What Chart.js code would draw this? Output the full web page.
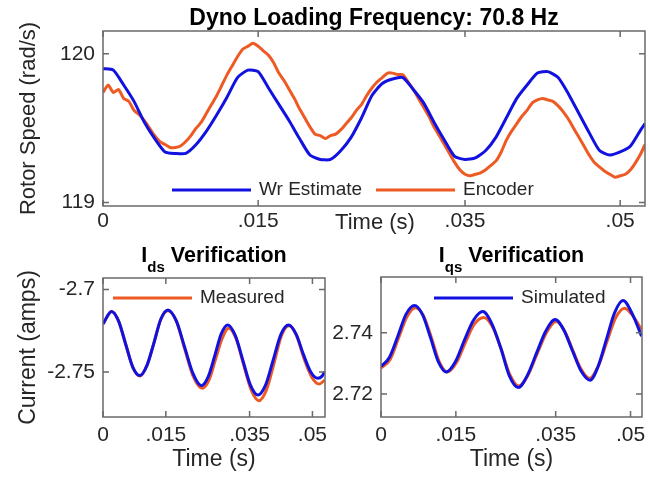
<!DOCTYPE html>
<html>
<head>
<meta charset="utf-8">
<script src="https://cdn.jsdelivr.net/npm/chart.js@4.4.0/dist/chart.umd.min.js"></script>
<style>
html, body { margin: 0; padding: 0; background: #fff; }
#wrap { position: relative; width: 650px; height: 479px; overflow: hidden; }
canvas { position: absolute; }
</style>
</head>
<body>
<div id="wrap">
  <canvas id="speed" width="650" height="240" style="left:0;top:0"></canvas>
  <canvas id="ids" width="330" height="239" style="left:0;top:240px"></canvas>
  <canvas id="iqs" width="335" height="239" style="left:315px;top:240px"></canvas>
</div>
<script>
// times are in ms, converted to seconds when the datasets are built

// Rotor speed - Wr estimate (blue)
const estTime = [0,1,2,3,4,5,6,7,8,9,10,11,12,13,14,15,16,17,18,19,20,21,22,23,24,25,26,27,28,29,30,
  31,32,33,34,35,36,37,38,39,40,41,42,43,44,45,46,47,48,49,50,51,52,52.4];
const estSpeed = [119.90,119.89,119.79,119.68,119.54,119.43,119.34,119.33,119.33,119.39,119.48,
  119.59,119.71,119.84,119.89,119.88,119.77,119.66,119.55,119.43,119.32,119.29,119.29,119.35,
  119.44,119.57,119.72,119.80,119.83,119.84,119.76,119.67,119.54,119.42,119.31,119.29,119.30,
  119.35,119.44,119.57,119.70,119.79,119.87,119.88,119.84,119.73,119.60,119.47,119.35,119.32,
  119.34,119.38,119.49,119.53];

// Rotor speed - encoder (orange)
const encTime = [0,0.5,1,1.5,2,2.5,3,3.5,4,4.5,5,5.5,6,6.5,7,7.5,8,8.5,9,9.5,10,10.5,11,11.5,
  12,12.5,13,13.5,14,14.5,15,15.5,16,16.5,17,17.5,18,18.5,19,19.5,20,20.5,21,21.5,22,22.5,23,
  23.5,24,24.5,25,25.5,26,26.5,27,27.5,28,28.5,29,29.5,30,30.5,31,31.5,32,32.5,33,33.5,34,34.5,
  35,35.5,36,36.5,37,37.5,38,38.5,39,39.5,40,40.5,41,41.5,42,42.5,43,43.5,44,44.5,45,45.5,46,
  46.5,47,47.5,48,48.5,49,49.5,50,50.5,51,51.5,52,52.4];
const encSpeed = [119.74,119.79,119.74,119.76,119.70,119.68,119.62,119.59,119.55,119.50,119.45,
  119.41,119.39,119.37,119.37,119.38,119.41,119.45,119.50,119.54,119.60,119.66,119.72,119.79,
  119.86,119.92,119.98,120.03,120.05,120.07,120.05,120.02,119.99,119.94,119.87,119.82,119.76,
  119.70,119.63,119.57,119.51,119.46,119.45,119.43,119.45,119.46,119.49,119.53,119.57,119.62,
  119.66,119.72,119.77,119.81,119.84,119.87,119.87,119.86,119.86,119.81,119.76,119.70,119.64,
  119.58,119.51,119.45,119.39,119.33,119.27,119.22,119.19,119.18,119.19,119.20,119.22,119.25,
  119.28,119.34,119.42,119.48,119.53,119.58,119.62,119.67,119.69,119.70,119.69,119.68,119.65,
  119.61,119.56,119.50,119.44,119.38,119.32,119.27,119.24,119.21,119.19,119.17,119.18,119.19,
  119.22,119.27,119.33,119.39];

// Ids verification
const idsSimTime = [0,2.05,3.7,5.4,7.1,8.8,10.5,12.2,13.8,15.5,17.5,19.5,21.5,23.5,25.1,26.7,28.2,
  29.8,31.6,33.4,35.2,37.0,38.8,40.6,42.5,44.3,46.1,47.8,49.6,51.3,52.3,52.9];
const idsSim = [-2.7209,-2.7133,-2.719,-2.733,-2.747,-2.7522,-2.746,-2.732,-2.718,-2.7124,-2.719,
  -2.735,-2.751,-2.7583,-2.753,-2.740,-2.727,-2.7215,-2.728,-2.743,-2.758,-2.764,-2.758,-2.743,
  -2.727,-2.7215,-2.727,-2.739,-2.750,-2.7538,-2.7525,-2.750];
const idsMeasTime = [0,2.05,3.7,5.4,7.1,8.8,10.5,12.2,13.8,15.5,17.5,19.5,21.6,23.7,25.3,26.9,28.4,
  30.0,31.8,33.6,35.4,37.2,39.0,40.8,42.6,44.4,46.2,48.0,49.8,51.6,52.9];
const idsMeas = [-2.7209,-2.7133,-2.719,-2.733,-2.747,-2.7525,-2.746,-2.732,-2.718,-2.7128,-2.719,
  -2.736,-2.753,-2.7599,-2.755,-2.742,-2.730,-2.7235,-2.730,-2.746,-2.761,-2.7674,-2.761,-2.745,
  -2.728,-2.722,-2.728,-2.742,-2.753,-2.7573,-2.755];

// Iqs verification
const iqsSimTime = [0,1.7,3.4,5.0,6.7,8.3,9.9,11.5,13.1,14.9,16.7,18.5,20.4,22.2,24.0,25.7,27.5,
  29.3,31.2,33.0,34.9,36.6,38.4,40.1,41.9,43.5,45.2,46.8,48.5,50.4,52.2];
const iqsSim = [2.7290,2.7320,2.7390,2.7460,2.7489,2.7460,2.7385,2.7305,2.7272,2.7305,2.7375,
  2.7440,2.7469,2.7430,2.7350,2.7260,2.7221,2.7260,2.7335,2.7405,2.7443,2.7410,2.7340,2.7275,
  2.7245,2.7290,2.7380,2.7465,2.7505,2.7460,2.7389];
const iqsMeasTime = [0,1.8,3.5,5.2,6.9,8.5,10.1,11.7,13.3,15.1,16.9,18.7,20.6,22.4,24.1,25.8,27.6,
  29.4,31.3,33.2,35.1,36.8,38.5,40.2,41.8,43.5,45.3,47.0,48.8,50.6,52.2];
const iqsMeas = [2.7285,2.7312,2.7382,2.7452,2.7482,2.7456,2.7384,2.7304,2.7272,2.7302,2.7368,
  2.7428,2.7450,2.7418,2.7346,2.7264,2.7226,2.7260,2.7332,2.7402,2.7437,2.7406,2.7340,2.7278,
  2.7251,2.7290,2.7372,2.7448,2.7480,2.7452,2.7410];

// tick values and labels
const timeTicks = [0, 0.015, 0.035, 0.05];
const timeTickLabels = ['0', '.015', '.035', '.05'];
const speedTicks = [119, 120];
const speedTickLabels = ['119', '120'];
const idsTicks = [-2.75, -2.7];
const idsTickLabels = ['-2.75', '-2.7'];
const iqsTicks = [2.72, 2.74];
const iqsTickLabels = ['2.72', '2.74'];

const BLUE = '#1212e0';
const ORANGE = '#ee5a24';
const FONT = '"Liberation Sans", Arial, Helvetica, sans-serif';

Chart.defaults.font.family = FONT;
Chart.defaults.font.size = 21;
Chart.defaults.color = '#262626';

function pts(times, vals) {
  return times.map((t, i) => ({ x: t / 1000, y: vals[i] }));
}

// MATLAB-ish box, inner ticks, inline legend and titles
const matlabLook = {
  id: 'matlabLook',
  afterDatasetsDraw(chart, args, o) {
    const ctx = chart.ctx;
    const a = chart.chartArea;
    const xs = chart.scales.x, ys = chart.scales.y;
    ctx.save();
    ctx.strokeStyle = '#6a6a6a';
    ctx.lineWidth = 1.5;
    ctx.strokeRect(a.left, a.top, a.right - a.left, a.bottom - a.top);
    ctx.beginPath();
    xs.ticks.forEach(t => {
      const px = xs.getPixelForValue(t.value);
      ctx.moveTo(px, a.bottom); ctx.lineTo(px, a.bottom - 6);
      ctx.moveTo(px, a.top); ctx.lineTo(px, a.top + 6);
    });
    ys.ticks.forEach(t => {
      const py = ys.getPixelForValue(t.value);
      ctx.moveTo(a.left, py); ctx.lineTo(a.left + 6, py);
      ctx.moveTo(a.right, py); ctx.lineTo(a.right - 6, py);
    });
    ctx.stroke();

    // legend
    ctx.font = '19px ' + FONT;
    ctx.textBaseline = 'middle';
    ctx.textAlign = 'left';
    ctx.fillStyle = '#262626';
    o.legend.forEach(it => {
      const ds = chart.data.datasets[it.ds];
      ctx.strokeStyle = ds.borderColor;
      ctx.lineWidth = 3;
      ctx.beginPath();
      ctx.moveTo(it.x, o.legendY);
      ctx.lineTo(it.x + 79, o.legendY);
      ctx.stroke();
      ctx.fillText(ds.label, it.x + 87, o.legendY);
    });

    const cx = (a.left + a.right) / 2;
    // x axis title
    ctx.textAlign = 'center';
    ctx.font = o.labelSize + 'px ' + FONT;
    ctx.fillText('Time (s)', o.xTitleX || cx, o.xTitleY);

    // y axis title
    if (o.yTitle) {
      ctx.save();
      ctx.translate(29, (a.top + a.bottom) / 2);
      ctx.rotate(-Math.PI / 2);
      ctx.fillText(o.yTitle, 0, 0);
      ctx.restore();
    }

    // chart title, optionally with subscript
    ctx.fillStyle = '#000';
    ctx.textAlign = 'left';
    ctx.textBaseline = 'alphabetic';
    const big = 'bold ' + o.titleSize + 'px ' + FONT, small = 'bold 15px ' + FONT;
    const parts = o.title;
    let w = 0;
    parts.forEach(p => { ctx.font = p.sub ? small : big; w += ctx.measureText(p.text).width; });
    let x0 = cx - w / 2;
    parts.forEach(p => {
      ctx.font = p.sub ? small : big;
      ctx.fillText(p.text, x0, o.titleY + (p.sub ? 10 : 0));
      x0 += ctx.measureText(p.text).width;
    });
    ctx.restore();
  }
};

function makeChart(id, cfg) {
  return new Chart(document.getElementById(id), {
    type: 'line',
    data: {
      datasets: [
        { label: cfg.blueLabel, data: cfg.blue, borderColor: BLUE, borderWidth: 3,
          pointRadius: 0, fill: false, tension: cfg.tension, cubicInterpolationMode: cfg.interp },
        { label: cfg.orangeLabel, data: cfg.orange, borderColor: ORANGE, borderWidth: 3,
          pointRadius: 0, fill: false, tension: cfg.tension, cubicInterpolationMode: cfg.interp }
      ]
    },
    options: {
      responsive: false,
      animation: false,
      events: [],
      layout: { padding: cfg.pad },
      plugins: {
        legend: { display: false },
        tooltip: { enabled: false },
        matlabLook: cfg.look
      },
      scales: {
        x: {
          type: 'linear', min: 0, max: cfg.xMax,
          grid: { display: false, drawTicks: false },
          border: { display: false },
          afterBuildTicks: s => { s.ticks = timeTicks.map(v => ({ value: v })); },
          afterFit: s => { s.height = cfg.xH; s.paddingLeft = 0; s.paddingRight = 0; },
          ticks: { padding: cfg.xPad, maxRotation: 0, autoSkip: false,
                   callback: (v, i) => timeTickLabels[i] }
        },
        y: {
          type: 'linear', min: cfg.yMin, max: cfg.yMax,
          grid: { display: false, drawTicks: false },
          border: { display: false },
          afterBuildTicks: s => { s.ticks = cfg.yTicks.map(v => ({ value: v })); },
          afterFit: s => { s.width = cfg.yW; s.paddingTop = 0; s.paddingBottom = 0; },
          ticks: { padding: 8, autoSkip: false, callback: (v, i) => cfg.yLabels[i] }
        }
      }
    },
    plugins: [matlabLook]
  });
}

makeChart('speed', {
  blueLabel: 'Wr Estimate', orangeLabel: 'Encoder',
  blue: pts(estTime, estSpeed), orange: pts(encTime, encSpeed),
  tension: 0.2, interp: 'default',
  pad: { left: 0, top: 31, right: 5, bottom: 0 },
  xMax: 0.0524, xH: 34, xPad: 3, yW: 103,
  yMin: 118.977, yMax: 120.153, yTicks: speedTicks, yLabels: speedTickLabels,
  look: {
    legend: [{ ds: 0, x: 172 }, { ds: 1, x: 376 }], legendY: 190,
    xTitleX: 375, xTitleY: 223, yTitle: 'Rotor Speed (rad/s)', labelSize: 22,
    title: [{ text: 'Dyno Loading Frequency: 70.8 Hz' }], titleSize: 23, titleY: 25
  }
});

makeChart('ids', {
  blueLabel: 'Simulated', orangeLabel: 'Measured',
  blue: pts(idsSimTime, idsSim), orange: pts(idsMeasTime, idsMeas),
  tension: 0, interp: 'monotone',
  pad: { left: 0, top: 38, right: 5, bottom: 0 },
  xMax: 0.053, xH: 62, xPad: 6, yW: 103,
  yMin: -2.7773, yMax: -2.693, yTicks: idsTicks, yLabels: idsTickLabels,
  look: {
    legend: [{ ds: 1, x: 113 }], legendY: 58,
    xTitleY: 220, yTitle: 'Current (amps)', labelSize: 23,
    title: [{ text: 'I' }, { text: 'ds', sub: true }, { text: ' Verification' }], titleSize: 21.5, titleY: 22
  }
});

makeChart('iqs', {
  blueLabel: 'Simulated', orangeLabel: 'Measured',
  blue: pts(iqsSimTime, iqsSim), orange: pts(iqsMeasTime, iqsMeas),
  tension: 0, interp: 'monotone',
  pad: { left: 0, top: 37, right: 8, bottom: 0 },
  xMax: 0.0523, xH: 62, xPad: 6, yW: 66,
  yMin: 2.7125, yMax: 2.7582, yTicks: iqsTicks, yLabels: iqsTickLabels,
  look: {
    legend: [{ ds: 0, x: 119 }], legendY: 58,
    xTitleY: 220, labelSize: 23,
    title: [{ text: 'I' }, { text: 'qs', sub: true }, { text: ' Verification' }], titleSize: 21.5, titleY: 22
  }
});
</script>
</body>
</html>
